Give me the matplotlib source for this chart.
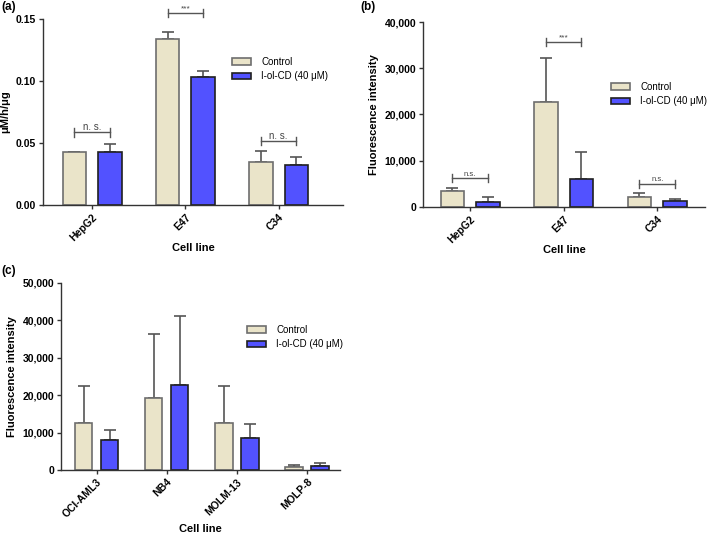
import matplotlib
matplotlib.use("Agg")
import matplotlib.pyplot as plt
import numpy as np
from matplotlib.ticker import FuncFormatter

plt.rcParams['font.family'] = ['Liberation Sans', 'DejaVu Sans']

# ---------------- data ----------------
series_names = ["Control", "I-ol-CD (40 μM)"]

a_cats = ["HepG2", "E47", "C34"]
a_ctrl = [0.0424, 0.1336, 0.0343]
a_ctrl_err = [0.0006, 0.0059, 0.0089]
a_trt = [0.0429, 0.1030, 0.0319]
a_trt_err = [0.0065, 0.0051, 0.0067]
a_sig = ["n. s.", "***", "n. s."]
a_sig_y = [0.0585, 0.1550, 0.0513]
a_yticks = [0.00, 0.05, 0.10, 0.15]

b_cats = ["HepG2", "E47", "C34"]
b_ctrl = [3400, 22650, 2230]
b_ctrl_err = [620, 9550, 720]
b_trt = [1080, 6030, 1290]
b_trt_err = [1080, 5960, 430]
b_sig = ["n.s.", "***", "n.s."]
b_sig_y = [6180, 35700, 5030]
b_yticks = [0, 10000, 20000, 30000, 40000]

c_cats = ["OCI-AML3", "NB4", "MOLM-13", "MOLP-8"]
c_ctrl = [12570, 19160, 12480, 800]
c_ctrl_err = [9980, 17200, 10070, 540]
c_trt = [8110, 22820, 8470, 1160]
c_trt_err = [2500, 18450, 3830, 710]
c_yticks = [0, 10000, 20000, 30000, 40000, 50000]

ctrl_color = "#EAE4C9"
trt_color = "#5252FF"
ctrl_edge = "#6E6E6E"
trt_edge = "#202020"
err_color = "#555555"

W, H = 709, 536
fig = plt.figure(figsize=(W / 100, H / 100), dpi=100)


def ax_at(l, r, b, t):
    return fig.add_axes([l / W, 1 - b / H, (r - l) / W, (b - t) / H])


def draw_panel(ax, cats, ctrl, ctrl_err, trt, trt_err, yticks, ylim, xlim,
               off, width, ylabel, fmt, sig=None, sig_y=None, sigfs=None,
               xlabelpad=1):
    x = np.arange(len(cats))
    ax.bar(x - off, ctrl, width, color=ctrl_color, edgecolor=ctrl_edge,
           linewidth=1.2, label=series_names[0], zorder=2)
    ax.bar(x + off, trt, width, color=trt_color, edgecolor=trt_edge,
           linewidth=1.2, label=series_names[1], zorder=2)
    ax.errorbar(x - off, ctrl, yerr=[np.zeros(len(cats)), ctrl_err], fmt='none',
                ecolor=err_color, elinewidth=1.2, capsize=4, capthick=1.2, zorder=1)
    ax.errorbar(x + off, trt, yerr=[np.zeros(len(cats)), trt_err], fmt='none',
                ecolor=err_color, elinewidth=1.2, capsize=4, capthick=1.2, zorder=1)
    ax.set_xlim(*xlim)
    ax.set_ylim(*ylim)
    ax.set_yticks(yticks)
    ax.yaxis.set_major_formatter(FuncFormatter(fmt))
    ax.set_xticks(x)
    ax.set_xticklabels(cats, rotation=45, ha='right', rotation_mode='anchor',
                       fontweight='bold', fontsize=7.5)
    for lab in ax.get_yticklabels():
        lab.set_fontweight('bold')
        lab.set_fontsize(7.5)
    for s in ['top', 'right']:
        ax.spines[s].set_visible(False)
    for s in ['left', 'bottom']:
        ax.spines[s].set_color('#333333')
        ax.spines[s].set_linewidth(1.0)
    ax.tick_params(axis='both', direction='out', length=3, width=1.0,
                   color='#333333', pad=2)
    ax.set_xlabel("Cell line", fontweight='bold', fontsize=8, labelpad=xlabelpad)
    ax.set_ylabel(ylabel, fontweight='bold', fontsize=8)
    if sig is not None:
        span = ylim[1] - ylim[0]
        cap = span * 0.022
        for i, (txt, yy) in enumerate(zip(sig, sig_y)):
            x0, x1 = i - off, i + off
            ax.plot([x0, x1], [yy, yy], color=err_color, lw=1.0, clip_on=False)
            ax.plot([x0, x0], [yy - cap, yy + cap], color=err_color, lw=1.0, clip_on=False)
            ax.plot([x1, x1], [yy - cap, yy + cap], color=err_color, lw=1.0, clip_on=False)
            fs = sigfs if txt != "***" else 6
            ax.text(i, yy + span * 0.004, txt, ha='center', va='bottom',
                    fontsize=fs, color='#444444', clip_on=False)
    return ax


fmt_a = lambda v, p: f"{v:.2f}"
fmt_k = lambda v, p: f"{int(v):,}"

leg_kw = dict(bbox_transform=fig.transFigure, frameon=False, fontsize=7,
              handlelength=2.0, handleheight=0.7, handletextpad=1.0,
              labelspacing=0.45, borderpad=0, borderaxespad=0, loc='upper left')

# panel (a)
ax_a = ax_at(43, 343, 205, 19)
draw_panel(ax_a, a_cats, a_ctrl, a_ctrl_err, a_trt, a_trt_err, a_yticks,
           (0, 0.15), (-0.527, 2.69), 0.19, 0.25, "μM/h/μg", fmt_a,
           a_sig, a_sig_y, 7, xlabelpad=0)
ax_a.legend(bbox_to_anchor=(232 / W, 1 - 57 / H), **leg_kw)

# panel (b)
ax_b = ax_at(423, 705, 207, 22)
draw_panel(ax_b, b_cats, b_ctrl, b_ctrl_err, b_trt, b_trt_err, b_yticks,
           (0, 40000), (-0.503, 2.51), 0.19, 0.25, "Fluorescence intensity",
           fmt_k, b_sig, b_sig_y, 5.5, xlabelpad=0)
ax_b.legend(bbox_to_anchor=(611 / W, 1 - 82 / H), **leg_kw)

# panel (c)
ax_c = ax_at(61, 340, 470, 283)
draw_panel(ax_c, c_cats, c_ctrl, c_ctrl_err, c_trt, c_trt_err, c_yticks,
           (0, 50000), (-0.51, 3.47), 0.185, 0.245, "Fluorescence intensity",
           fmt_k, xlabelpad=3.5)
ax_c.legend(bbox_to_anchor=(247 / W, 1 - 325 / H), **leg_kw)

# panel labels
fig.text(1 / W, 1 - 1 / H, "(a)", fontweight='bold', fontsize=8.5, va='top', ha='left')
fig.text(360 / W, 1 - 1 / H, "(b)", fontweight='bold', fontsize=8.5, va='top', ha='left')
fig.text(1 / W, 1 - 265 / H, "(c)", fontweight='bold', fontsize=8.5, va='top', ha='left')

fig.savefig("out.png", dpi=100)
